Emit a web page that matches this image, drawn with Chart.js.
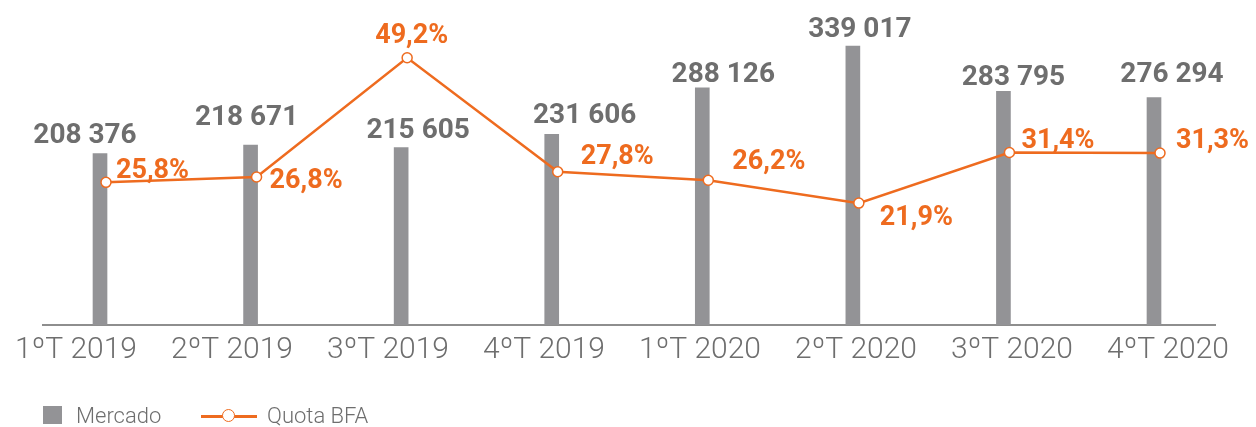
<!DOCTYPE html>
<html>
<head>
<meta charset="utf-8">
<script src="https://cdn.jsdelivr.net/npm/chart.js@4"></script>
<style>
  body { margin: 0; background: #fff; }
  #wrap { position: relative; width: 1256px; height: 427px; }
  .leg { position: absolute; font-family: Roboto, sans-serif; font-weight: 300; font-size: 22px; line-height: 22px; color: #6e6e6e; white-space: nowrap; }
</style>
</head>
<body>
<div id="wrap">
  <canvas id="chart" width="1256" height="427"></canvas>
  <div style="position:absolute;left:43px;top:406px;width:19px;height:18px;background:#939396"></div>
  <div class="leg" style="left:76px;top:405px">Mercado</div>
  <div style="position:absolute;left:201px;top:415px;width:56px;height:2.5px;background:#ee6b1f"></div>
  <div style="position:absolute;left:222px;top:409px;width:11px;height:11px;border:1.5px solid #ee6b1f;border-radius:50%;background:#fff"></div>
  <div class="leg" style="left:267px;top:405px">Quota BFA</div>
</div>
<script>
  // dados
  const quarters = ['1ºT 2019', '2ºT 2019', '3ºT 2019', '4ºT 2019', '1ºT 2020', '2ºT 2020', '3ºT 2020', '4ºT 2020'];
  const mercado = [208376, 218671, 215605, 231606, 288126, 339017, 283795, 276294];
  const quota = [25.8, 26.8, 49.2, 27.8, 26.2, 21.9, 31.4, 31.3];

  // deslocamento das etiquetas (como no original, colocadas à mão)
  const barLabelOffset = [[-15, -11], [-4, -20], [17, -10], [33, -11], [21, -6], [7, -9], [10, -6], [18, -16]];
  const lineLabelOffset = [[10, -4], [13, 11], [-32, -15], [23, -8], [24, -11], [21, 22], [12, -5], [16, -5]];

  const GREY = '#939396';
  const ORANGE = '#ee6b1f';

  const fmt = v => String(v).replace(/\B(?=(\d{3})+(?!\d))/g, ' ');
  const fmtPct = v => v.toFixed(1).replace('.', ',') + '%';

  const labelPlugin = {
    id: 'labels',
    afterDatasetsDraw(chart) {
      const ctx = chart.ctx;
      ctx.save();
      // barras
      ctx.font = 'bold 28px Roboto';
      ctx.fillStyle = '#6e6e6e';
      ctx.textAlign = 'center';
      ctx.textBaseline = 'alphabetic';
      chart.getDatasetMeta(0).data.forEach((el, i) => {
        ctx.fillText(fmt(mercado[i]), el.x + barLabelOffset[i][0], el.y + barLabelOffset[i][1]);
      });
      // linha
      ctx.font = 'bold 27px Roboto';
      ctx.fillStyle = ORANGE;
      ctx.textAlign = 'left';
      chart.getDatasetMeta(1).data.forEach((el, i) => {
        ctx.fillText(fmtPct(quota[i]), el.x + lineLabelOffset[i][0], el.y + lineLabelOffset[i][1]);
      });
      ctx.restore();
    }
  };

  new Chart(document.getElementById('chart'), {
    type: 'bar',
    data: {
      datasets: [
        {
          label: 'Mercado',
          data: mercado.map((v, i) => ({ x: i, y: v })),
          backgroundColor: GREY,
          barThickness: 14,
          xAxisID: 'x',
          yAxisID: 'y',
          order: 2
        },
        {
          type: 'line',
          label: 'Quota BFA',
          data: quota.map((v, i) => ({ x: i, y: v })),
          borderColor: ORANGE,
          borderWidth: 2.5,
          pointRadius: 5,
          pointBorderWidth: 1.5,
          pointBackgroundColor: '#fff',
          pointBorderColor: ORANGE,
          tension: 0,
          xAxisID: 'xl',
          yAxisID: 'y1',
          order: 1
        }
      ]
    },
    options: {
      responsive: false,
      animation: false,
      layout: { padding: { left: 43, right: 41, top: 20, bottom: 52 } },
      plugins: {
        legend: { display: false },
        tooltip: { enabled: false }
      },
      scales: {
        // barras e linha em eixos próprios (a linha fica ligeiramente à direita, como no original)
        x: { type: 'linear', display: false, offset: false, min: -0.4251, max: 7.3586 },
        xl: { type: 'linear', display: false, offset: false, min: -0.4184, max: 7.3653 },
        xt: {
          type: 'linear',
          position: 'bottom',
          offset: false,
          min: -0.2115,
          max: 7.3013,
          afterBuildTicks: axis => { axis.ticks = quarters.map((q, i) => ({ value: i })); },
          grid: { display: false, drawTicks: false },
          border: { display: true, color: '#8e8e8e', width: 2 },
          ticks: {
            autoSkip: false,
            maxRotation: 0,
            padding: 7,
            color: '#6e6e6e',
            font: { family: 'Roboto', weight: 300, size: 30 },
            callback: v => quarters[v]
          }
        },
        y: { display: false, min: 0, max: 370600 },
        y1: { display: false, min: -0.996, max: 56.3 }
      }
    },
    plugins: [labelPlugin]
  });
</script>
</body>
</html>
